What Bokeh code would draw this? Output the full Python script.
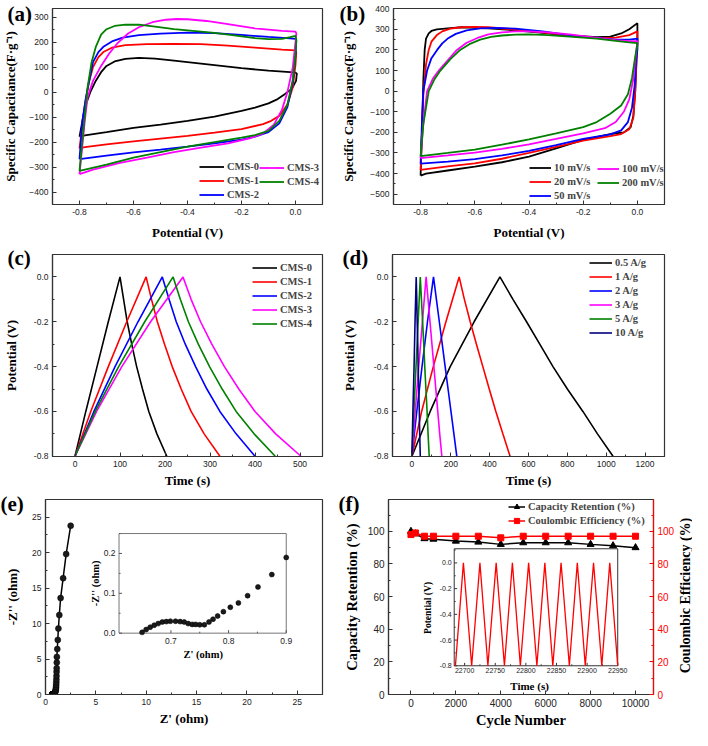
import math
from bokeh.plotting import figure
from bokeh.models import (Range1d, LinearAxis, SingleIntervalTicker, Legend, LegendItem,
                          PrintfTickFormatter, Label)
from bokeh.layouts import column, row
from bokeh.embed import file_html
from bokeh.resources import INLINE
from bokeh.core.properties import value

SERIF = "Liberation Serif"
SANS = "Liberation Sans"

# ---------------- (a) CV curves of CMS samples ----------------
a_names = ["CMS-0", "CMS-1", "CMS-2", "CMS-3", "CMS-4"]
a_colors = ["#000000", "#ff0000", "#0000ff", "#ff00ff", "#008000"]
a_cms0_v = [-0.8, -0.79, -0.78, -0.76, -0.74, -0.72, -0.70, -0.67, -0.63, -0.58, -0.52, -0.45, -0.40, -0.30, -0.20, -0.10, -0.02, 0.0,
            0.005, 0.002, -0.01, -0.02, -0.04, -0.07, -0.10, -0.15, -0.20, -0.30, -0.40, -0.50, -0.60, -0.70, -0.78, -0.80]
a_cms0_c = [-178, -120, -60, 0, 45, 80, 105, 123, 133, 137, 134, 126, 120, 108, 96, 86, 80, 78,
            75, 45, 20, 8, -8, -30, -45, -62, -75, -98, -115, -130, -143, -160, -173, -178]
a_cms1_v = [-0.8, -0.79, -0.78, -0.765, -0.75, -0.73, -0.71, -0.68, -0.63, -0.55, -0.45, -0.35, -0.25, -0.15, -0.05, 0.0,
            0.003, 0.0, -0.01, -0.03, -0.06, -0.09, -0.12, -0.2, -0.3, -0.4, -0.5, -0.6, -0.7, -0.78, -0.8]
a_cms1_c = [-225, -140, -50, 40, 100, 140, 162, 178, 188, 192, 193, 192, 186, 178, 170, 167,
            160, 110, 20, -50, -95, -115, -128, -148, -162, -175, -186, -197, -209, -220, -225]
a_cms2_v = [-0.8, -0.795, -0.79, -0.776, -0.765, -0.75, -0.73, -0.71, -0.68, -0.64, -0.58, -0.5, -0.4, -0.3, -0.2, -0.1, -0.02, 0.0,
            0.003, 0.0, -0.01, -0.03, -0.06, -0.1, -0.15, -0.2, -0.3, -0.4, -0.5, -0.6, -0.7, -0.8]
a_cms2_c = [-268, -200, -120, -20, 40, 120, 160, 183, 203, 218, 228, 234, 238, 236, 229, 221, 215, 213,
            205, 150, 40, -60, -125, -160, -178, -190, -205, -218, -230, -241, -254, -268]
a_cms3_v = [-0.8, -0.79, -0.78, -0.77, -0.75, -0.72, -0.69, -0.66, -0.62, -0.58, -0.53, -0.48, -0.44, -0.40, -0.33, -0.25, -0.15, -0.05, 0.0,
            0.003, 0.0, -0.01, -0.03, -0.05, -0.08, -0.12, -0.17, -0.25, -0.35, -0.45, -0.55, -0.65, -0.75, -0.8]
a_cms3_c = [-328, -220, -110, -20, 45, 105, 155, 195, 235, 260, 280, 290, 293, 292, 285, 272, 255, 245, 242,
            235, 200, 100, 0, -70, -130, -165, -185, -205, -222, -240, -262, -283, -310, -328]
a_cms4_v = [-0.8, -0.79, -0.78, -0.77, -0.755, -0.74, -0.72, -0.70, -0.67, -0.63, -0.58, -0.52, -0.45, -0.38, -0.30, -0.22, -0.15, -0.10, -0.05, -0.02, 0.0,
            0.003, 0.0, -0.01, -0.03, -0.06, -0.1, -0.15, -0.2, -0.3, -0.4, -0.5, -0.6, -0.7, -0.8]
a_cms4_c = [-315, -200, -90, 20, 121, 180, 230, 252, 265, 270, 270, 262, 252, 245, 237, 226, 216, 212, 213, 220, 225,
            210, 150, 50, -50, -115, -155, -172, -182, -200, -218, -240, -262, -290, -315]

# ---------------- (b) CV curves at different scan rates ----------------
b_names = ["10 mV/s", "20 mV/s", "50 mV/s", "100 mV/s", "200 mV/s"]
b_colors = ["#000000", "#ff0000", "#0000ff", "#ff00ff", "#008000"]
b_10_v = [-0.8, -0.795, -0.79, -0.785, -0.78, -0.77, -0.76, -0.74, -0.7, -0.65, -0.55, -0.45, -0.35, -0.25, -0.15, -0.1, -0.06, -0.03, 0.0,
          0.0, -0.003, -0.008, -0.015, -0.025, -0.05, -0.1, -0.2, -0.3, -0.4, -0.5, -0.6, -0.7, -0.78, -0.8]
b_10_c = [-410, -200, 50, 200, 255, 280, 292, 300, 305, 310, 305, 295, 283, 270, 262, 265, 280, 300, 330,
          250, 150, 0, -120, -175, -200, -208, -236, -278, -318, -345, -366, -385, -400, -410]
b_20_v = [-0.8, -0.795, -0.79, -0.78, -0.77, -0.76, -0.74, -0.72, -0.69, -0.65, -0.6, -0.55, -0.45, -0.35, -0.25, -0.15, -0.08, -0.03, 0.0,
          0.0, -0.004, -0.008, -0.015, -0.03, -0.06, -0.1, -0.2, -0.3, -0.4, -0.5, -0.6, -0.7, -0.8]
b_20_c = [-382, -200, -20, 130, 200, 240, 272, 290, 303, 310, 312, 310, 298, 285, 270, 258, 260, 272, 290,
          220, 150, 0, -130, -185, -208, -218, -240, -270, -300, -328, -350, -365, -382]
b_50_v = [-0.8, -0.795, -0.79, -0.776, -0.76, -0.739, -0.72, -0.7, -0.67, -0.63, -0.58, -0.52, -0.45, -0.35, -0.25, -0.15, -0.08, -0.03, 0.0,
          0.0, -0.005, -0.01, -0.02, -0.035, -0.06, -0.1, -0.2, -0.3, -0.4, -0.5, -0.6, -0.7, -0.8]
b_50_c = [-352, -150, 0, 100, 160, 200, 232, 255, 278, 295, 305, 307, 303, 290, 272, 258, 250, 250, 255,
          200, 150, 30, -80, -150, -190, -210, -232, -262, -290, -312, -330, -342, -352]
b_100_v = [-0.8, -0.79, -0.776, -0.755, -0.733, -0.7, -0.666, -0.63, -0.59, -0.55, -0.5, -0.45, -0.4, -0.33, -0.25, -0.15, -0.08, -0.03, 0.0,
           0.0, -0.008, -0.015, -0.03, -0.05, -0.08, -0.12, -0.2, -0.3, -0.4, -0.5, -0.6, -0.7, -0.8]
b_100_c = [-325, -160, 0, 60, 100, 150, 200, 235, 258, 275, 285, 290, 290, 285, 275, 258, 248, 242, 242,
           240, 150, 60, -40, -100, -150, -180, -205, -232, -258, -280, -298, -312, -325]
b_200_v = [-0.8, -0.79, -0.77, -0.75, -0.727, -0.69, -0.654, -0.62, -0.58, -0.54, -0.5, -0.45, -0.4, -0.33, -0.25, -0.15, -0.08, -0.03, 0.0,
           0.0, -0.01, -0.02, -0.035, -0.06, -0.1, -0.15, -0.2, -0.3, -0.4, -0.5, -0.6, -0.7, -0.8]
b_200_c = [-315, -160, 0, 55, 100, 155, 200, 228, 250, 263, 270, 274, 275, 272, 265, 255, 244, 237, 233,
           230, 150, 64, -15, -70, -110, -150, -175, -205, -234, -260, -284, -300, -315]

# ---------------- (c) GCD of CMS samples ----------------
c_volts = [-0.8, -0.6, -0.4, -0.2, 0.0, -0.1, -0.2, -0.3, -0.4, -0.5, -0.6, -0.7, -0.8]
c_t_cms0 = [0, 24, 49, 74, 100, 108, 116, 126, 137, 150, 164, 182, 204]
c_t_cms1 = [0, 35, 74, 115, 158, 170, 183, 199, 216, 236, 258, 287, 322]
c_t_cms2 = [0, 42, 89, 140, 194, 209, 225, 245, 268, 293, 322, 358, 400]
c_t_cms3 = [0, 48, 104, 168, 240, 258, 279, 304, 332, 364, 400, 446, 502]
c_t_cms4 = [0, 45, 97, 155, 218, 234, 252, 274, 299, 327, 358, 398, 445]

# ---------------- (d) GCD at different current densities ----------------
d_names = ["0.5 A/g", "1 A/g", "2 A/g", "3 A/g", "5 A/g", "10 A/g"]
d_colors = ["#000000", "#ff0000", "#0000ff", "#ff00ff", "#008000", "#000080"]
d_volts = [-0.8, -0.6, -0.4, -0.2, 0.0, -0.1, -0.2, -0.3, -0.4, -0.5, -0.6, -0.7, -0.8]
d_t_05 = [0, 94, 197, 320, 453, 520, 590, 658, 726, 800, 880, 955, 1035]
d_t_1 = [0, 50, 110, 175, 243, 270, 300, 332, 365, 398, 432, 468, 505]
d_t_2 = [0, 25, 52, 80, 111, 126, 141, 156, 171, 186, 201, 216, 231]
d_t_3 = [0, 17, 35, 54, 73, 83, 93, 103, 113, 123, 133, 143, 154]
d_t_5 = [0, 10, 21, 32, 43, 49, 55, 61, 66, 72, 78, 83, 89]
d_t_10 = [0, 5, 11, 16, 22, 25, 27, 30, 32, 35, 38, 40, 43]

# ---------------- (e) Nyquist plot ----------------
e_zre = [0.650, 0.657, 0.664, 0.671, 0.678, 0.685, 0.692, 0.699, 0.708, 0.716, 0.723, 0.730, 0.737, 0.743,
         0.750, 0.758, 0.766, 0.773, 0.781, 0.791, 0.803, 0.817, 0.833, 0.851, 0.875, 0.90,
         0.93, 0.96, 0.99, 1.01, 1.03, 1.05, 1.06, 1.07, 1.08, 1.09, 1.10, 1.11, 1.12, 1.13,
         1.17, 1.22, 1.28, 1.37, 1.50, 1.75, 2.05, 2.50]
e_zim = [0.002, 0.009, 0.015, 0.020, 0.024, 0.028, 0.029, 0.030, 0.030, 0.029, 0.028, 0.024, 0.022, 0.022,
         0.021, 0.021, 0.028, 0.035, 0.043, 0.054, 0.065, 0.076, 0.094, 0.116, 0.147, 0.190,
         0.25, 0.33, 0.45, 0.60, 0.80, 1.05, 1.35, 1.70, 2.10, 2.60, 3.20, 3.70, 4.50, 5.30,
         6.40, 7.70, 9.30, 11.2, 13.6, 16.4, 19.8, 23.8]

# ---------------- (f) cycling stability ----------------
f_cycles = [0, 200, 600, 1000, 2000, 3000, 4000, 5000, 6000, 7000, 8000, 9000, 10000]
f_retention = [100, 98.5, 95.5, 95.2, 94, 93.4, 92, 93, 93, 93, 92, 91.2, 90]
f_coulombic = [98, 99, 97, 97, 97, 97, 96, 97, 97, 97, 97, 97, 97]
f_inset_t = [22685, 22698, 22711.5, 22725, 22738, 22751.5, 22765, 22778, 22791, 22804.5, 22818,
             22831, 22844, 22857.5, 22871, 22884, 22897, 22910.5, 22924, 22937, 22950]
f_inset_v = [-0.8, 0.0, -0.8, 0.0, -0.8, 0.0, -0.8, 0.0, -0.8, 0.0, -0.8,
             0.0, -0.8, 0.0, -0.8, 0.0, -0.8, 0.0, -0.8, 0.0, -0.8]

AX = "#333333"


def style_axis(ax, label, tick_fs, lab_fs, lab_standoff, color=AX, tick_color="#222222"):
    ax.axis_label = label
    ax.axis_label_text_font = SERIF
    ax.axis_label_text_font_style = "bold"
    ax.axis_label_text_font_size = lab_fs
    ax.axis_label_text_color = "black"
    ax.axis_label_standoff = lab_standoff
    ax.major_label_text_font = SANS
    ax.major_label_text_font_size = tick_fs
    ax.major_label_text_color = tick_color
    ax.major_label_standoff = 4
    ax.axis_line_color = color
    ax.axis_line_width = 1.2
    ax.major_tick_in = 4
    ax.major_tick_out = 0
    ax.minor_tick_in = 2
    ax.minor_tick_out = 0
    ax.major_tick_line_color = color
    ax.minor_tick_line_color = color


def make_fig(w, h, xr, yr, xint, yint, xlabel, ylabel, bl, br, bt, bb,
             ystand, xstand, tick_fs="8.5px", lab_fs="13px", xfmt=None, yfmt=None):
    p = figure(width=w, height=h, x_range=Range1d(*xr), y_range=Range1d(*yr),
               output_backend="svg", toolbar_location=None, tools="")
    p.min_border_left = bl
    p.min_border_right = br
    p.min_border_top = bt
    p.min_border_bottom = bb
    p.xgrid.visible = False
    p.ygrid.visible = False
    p.outline_line_color = AX
    p.outline_line_width = 1.2
    p.background_fill_color = "white"
    p.border_fill_color = "white"
    p.xaxis[0].ticker = SingleIntervalTicker(interval=xint, num_minor_ticks=2)
    p.yaxis[0].ticker = SingleIntervalTicker(interval=yint, num_minor_ticks=2)
    if xfmt:
        p.xaxis[0].formatter = PrintfTickFormatter(format=xfmt)
    if yfmt:
        p.yaxis[0].formatter = PrintfTickFormatter(format=yfmt)
    style_axis(p.xaxis[0], xlabel, tick_fs, lab_fs, xstand)
    style_axis(p.yaxis[0], ylabel, tick_fs, lab_fs, ystand)
    return p


def panel_label(p, text, bl, bt, text_bottom):
    # panel letter drawn as the (left aligned) title, pulled down beside the frame
    t = p.title
    t.text = text
    t.align = "left"
    t.vertical_align = "bottom"
    t.offset = -bl
    t.standoff = -2 * (text_bottom - bt)
    t.text_font = SERIF
    t.text_font_style = "bold"
    t.text_font_size = "21px"
    t.text_color = "black"


def add_legend(p, items, loc, gw, fs="10.5px"):
    lg = Legend(items=items, location=loc, glyph_width=gw, glyph_height=13, label_height=13,
                spacing=1, padding=2, margin=0, label_standoff=3,
                background_fill_alpha=0, border_line_alpha=0,
                label_text_font=SERIF, label_text_font_style="bold", label_text_font_size=fs)
    p.add_layout(lg)


W1, W2 = 338, 354
H1, H2, H3 = 244, 246, 240

# ---- (a)
pa = make_fig(W1, H1, (-0.9, 0.1), (-450, 335), 0.2, 100, "Potential (V)",
              "Specific Capacitance(F·g⁻¹)", 45, 16, 8, 40, 8, 7, xfmt="%.1f")
a_v = [a_cms0_v, a_cms1_v, a_cms2_v, a_cms3_v, a_cms4_v]
a_c = [a_cms0_c, a_cms1_c, a_cms2_c, a_cms3_c, a_cms4_c]
a_r = []
for xs, ys, col in zip(a_v, a_c, a_colors):
    a_r.append(pa.line(xs, ys, line_color=col, line_width=1.8))
add_legend(pa, [LegendItem(label=a_names[i], renderers=[a_r[i]]) for i in (0, 1, 2)], (145, 1.5), 25)
add_legend(pa, [LegendItem(label=a_names[i], renderers=[a_r[i]]) for i in (3, 4)], (205, 14.5), 25)
panel_label(pa, "(a)", 45, 8, 25)

# ---- (b)
pb = make_fig(W2, H1, (-0.9, 0.1), (-550, 401), 0.2, 100, "Potential (V)",
              "Specific Capacitance(F·g⁻¹)", 54, 28, 8, 40, 11, 7, xfmt="%.1f")
b_v = [b_10_v, b_20_v, b_50_v, b_100_v, b_200_v]
b_c = [b_10_c, b_20_c, b_50_c, b_100_c, b_200_c]
b_r = []
for xs, ys, col in zip(b_v, b_c, b_colors):
    b_r.append(pb.line(xs, ys, line_color=col, line_width=1.8))
add_legend(pb, [LegendItem(label=b_names[i], renderers=[b_r[i]]) for i in (0, 1, 2)], (134, 0.5), 22)
add_legend(pb, [LegendItem(label=b_names[i], renderers=[b_r[i]]) for i in (3, 4)], (202, 13.5), 22)
panel_label(pb, "(b)", 54, 8, 25)

# ---- (c)
pc = make_fig(W1, H2, (-50, 550), (-0.801, 0.1), 100, 0.2, "Time (s)", "Potential (V)",
              45, 16, 10, 32, 12, 3, yfmt="%.1f")
c_t = [c_t_cms0, c_t_cms1, c_t_cms2, c_t_cms3, c_t_cms4]
c_r = []
for ts, col in zip(c_t, a_colors):
    c_r.append(pc.line(ts, c_volts, line_color=col, line_width=1.6))
add_legend(pc, [LegendItem(label=a_names[i], renderers=[c_r[i]]) for i in range(5)], (198, 124), 25)
panel_label(pc, "(c)", 45, 10, 25)

# ---- (d)
pd_ = make_fig(W2, H2, (-100, 1300), (-0.801, 0.1), 200, 0.2, "Time (s)", "Potential (V)",
               50, 28, 10, 32, 14, 3, yfmt="%.1f")
d_t = [d_t_05, d_t_1, d_t_2, d_t_3, d_t_5, d_t_10]
d_r = []
for ts, col in zip(d_t, d_colors):
    d_r.append(pd_.line(ts, d_volts, line_color=col, line_width=1.6))
add_legend(pd_, [LegendItem(label=d_names[i], renderers=[d_r[i]]) for i in range(6)], (195, 115), 23)
panel_label(pd_, "(d)", 50, 10, 25)

# ---- (e)
pe = make_fig(W1, H3, (0, 27.5), (0, 27.5), 5, 5, "Z' (ohm)", "-Z'' (ohm)",
              45, 16, 9, 33, 9, 3)
pe.line(e_zre, e_zim, line_color="black", line_width=1.5)
pe.scatter(e_zre, e_zim, marker="circle", size=6, fill_color="#1a1a1a", line_color="black", line_width=0.5)
# inset
e_ix = (0.61, 0.9)
e_iy = (0.0, 0.25)
sub_e = pe.subplot(x_source=Range1d(*e_ix), y_source=Range1d(*e_iy),
                   x_target=Range1d(7.3, 23.9), y_target=Range1d(8.65, 22.7))
sub_e.quad(left=[e_ix[0]], right=[e_ix[1]], bottom=[e_iy[0]], top=[e_iy[1]],
           fill_color="white", line_color="#777777", line_width=1)
e_in_xmaj = [0.7, 0.8, 0.9]
e_in_xmin = [0.65, 0.75, 0.85]
e_in_ymaj = [0.0, 0.1, 0.2]
e_in_ymin = [0.05, 0.15, 0.25]
tyl = (e_iy[1] - e_iy[0]) * 0.03
txl = (e_ix[1] - e_ix[0]) * 0.018
sub_e.segment(x0=e_in_xmaj, y0=[e_iy[0]] * 3, x1=e_in_xmaj, y1=[e_iy[0] + tyl] * 3, line_color="#555555")
sub_e.segment(x0=e_in_xmin, y0=[e_iy[0]] * 3, x1=e_in_xmin, y1=[e_iy[0] + tyl / 2] * 3, line_color="#555555")
sub_e.segment(x0=[e_ix[0]] * 3, y0=e_in_ymaj, x1=[e_ix[0] + txl] * 3, y1=e_in_ymaj, line_color="#555555")
sub_e.segment(x0=[e_ix[0]] * 3, y0=e_in_ymin, x1=[e_ix[0] + txl / 2] * 3, y1=e_in_ymin, line_color="#555555")
sub_e.text(x=e_in_xmaj, y=[e_iy[0] - 0.012] * 3, text=[f"{v:.1f}" for v in e_in_xmaj],
           text_font=value(SANS), text_font_size="8.5px", text_color="#222222",
           text_align="center", text_baseline="top")
sub_e.text(x=[e_ix[0] - 0.006] * 3, y=e_in_ymaj, text=[f"{v:.1f}" for v in e_in_ymaj],
           text_font=value(SANS), text_font_size="8.5px", text_color="#222222",
           text_align="right", text_baseline="middle")
sub_e.text(x=[0.756], y=[-0.053], text=["Z' (ohm)"], text_font=value(SERIF), text_font_style="bold",
           text_font_size="10.5px", text_align="center", text_baseline="middle")
sub_e.text(x=[0.569], y=[0.125], text=["-Z'' (ohm)"], text_font=value(SERIF), text_font_style="bold",
           text_font_size="10.5px", text_align="center", text_baseline="middle", angle=math.pi / 2)
e_in_x = [x for x, y in zip(e_zre, e_zim) if x <= e_ix[1] and y <= e_iy[1]]
e_in_y = [y for x, y in zip(e_zre, e_zim) if x <= e_ix[1] and y <= e_iy[1]]
sub_e.scatter(e_in_x, e_in_y, marker="circle", size=5, fill_color="#1a1a1a", line_color="black", line_width=0.5)
panel_label(pe, "(e)", 45, 9, 25)

# ---- (f)
F_BL, F_BR, F_BT, F_BB = 50, 37, 9, 33
pf = make_fig(W2, H3, (-1000, 10800), (0, 119.5), 2000, 20, "Cycle Number", "Capacity Retention (%)",
              F_BL, F_BR, F_BT, F_BB, 5, 2, tick_fs="10px", lab_fs="14.5px")
pf.extra_y_ranges = {"ce": Range1d(0, 119.5)}
rax = LinearAxis(y_range_name="ce", ticker=SingleIntervalTicker(interval=20, num_minor_ticks=2))
style_axis(rax, "", "10px", "14px", 0, color="#ff0000", tick_color="#ff0000")
pf.add_layout(rax, "right")
# right axis title, reading bottom-to-top like the reference
pf.add_layout(Label(x=8, y=(H3 - F_BT - F_BB) / 2, x_units="screen", y_units="screen",
                    text="Coulombic Efficiency (%)", angle=math.pi / 2, text_align="center",
                    text_baseline="middle", text_font=SERIF, text_font_style="bold",
                    text_font_size="14px", text_color="black"), "right")
fr1 = pf.line(f_cycles, f_retention, line_color="black", line_width=1.5)
fs1 = pf.scatter(f_cycles, f_retention, marker="triangle", size=7, fill_color="black", line_color="black")
fr2 = pf.line(f_cycles, f_coulombic, line_color="#ff0000", line_width=1.5, y_range_name="ce")
fs2 = pf.scatter(f_cycles, f_coulombic, marker="square", size=6, fill_color="#ff0000", line_color="#ff0000",
                 y_range_name="ce")
add_legend(pf, [LegendItem(label="Capacity Retention (%)", renderers=[fr1, fs1]),
                LegendItem(label="Coulombic Efficiency (%)", renderers=[fr2, fs2])], (118, 165), 17, fs="10.5px")
# inset
f_ix = (22683, 22950)
f_iy = (-0.8, 0.11)
sub_f = pf.subplot(x_source=Range1d(*f_ix), y_source=Range1d(*f_iy),
                   x_target=Range1d(1926, 9207), y_target=Range1d(17.6, 89.3))
sub_f.quad(left=[f_ix[0]], right=[f_ix[1]], bottom=[f_iy[0]], top=[f_iy[1]],
           fill_color="white", line_color="#333333", line_width=1)
f_in_xmaj = [22700, 22750, 22800, 22850, 22900, 22950]
f_in_xmin = [22725, 22775, 22825, 22875, 22925]
f_in_ymaj = [-0.8, -0.6, -0.4, -0.2, 0.0]
f_in_ymin = [-0.7, -0.5, -0.3, -0.1, 0.1]
ftyl = (f_iy[1] - f_iy[0]) * 0.025
ftxl = (f_ix[1] - f_ix[0]) * 0.018
sub_f.segment(x0=f_in_xmaj, y0=[f_iy[0]] * 6, x1=f_in_xmaj, y1=[f_iy[0] + ftyl] * 6, line_color="#333333")
sub_f.segment(x0=f_in_xmin, y0=[f_iy[0]] * 5, x1=f_in_xmin, y1=[f_iy[0] + ftyl / 2] * 5, line_color="#333333")
sub_f.segment(x0=[f_ix[0]] * 5, y0=f_in_ymaj, x1=[f_ix[0] + ftxl] * 5, y1=f_in_ymaj, line_color="#333333")
sub_f.segment(x0=[f_ix[0]] * 5, y0=f_in_ymin, x1=[f_ix[0] + ftxl / 2] * 5, y1=f_in_ymin, line_color="#333333")
sub_f.line(f_inset_t, f_inset_v, line_color="#ff0000", line_width=1.3)
sub_f.text(x=f_in_xmaj, y=[f_iy[0] - 0.02] * 6, text=[str(v) for v in f_in_xmaj],
           text_font=value(SANS), text_font_size="7px", text_color="#222222",
           text_align="center", text_baseline="top")
sub_f.text(x=[f_ix[0] - 4] * 5, y=f_in_ymaj, text=[f"{v:.1f}" for v in f_in_ymaj],
           text_font=value(SANS), text_font_size="7px", text_color="#222222",
           text_align="right", text_baseline="middle")
sub_f.text(x=[22806], y=[-0.955], text=["Time (s)"], text_font=value(SERIF), text_font_style="bold",
           text_font_size="11px", text_align="center", text_baseline="middle")
sub_f.text(x=[22641], y=[-0.35], text=["Potential (V)"], text_font=value(SERIF), text_font_style="bold",
           text_font_size="9.5px", text_align="center", text_baseline="middle", angle=math.pi / 2)
panel_label(pf, "(f)", F_BL, F_BT, 25)

layout = column(row(pa, pb), row(pc, pd_), row(pe, pf))
open("out.html", "w").write(file_html(layout, INLINE))
